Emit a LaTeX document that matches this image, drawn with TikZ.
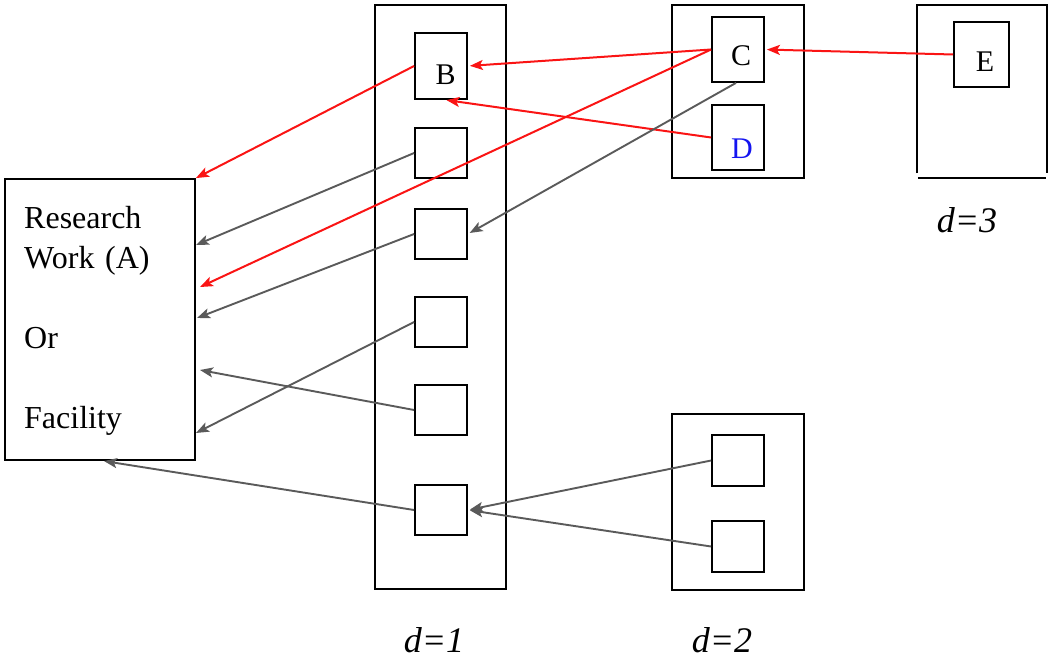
\documentclass[tikz,border=0pt]{standalone}
\usepackage{fontspec}
\setmainfont{Liberation Serif}
\usetikzlibrary{arrows.meta,calc}
\definecolor{arrred}{RGB}{250,20,20}
\definecolor{arrgray}{RGB}{90,90,90}
\definecolor{dblue}{RGB}{20,20,240}
\begin{document}
\begin{tikzpicture}[x=1pt,y=-1pt,
  box/.style={draw=black, line width=1.8pt, inner sep=0pt},
  cell/.style={box, minimum width=52pt, minimum height=50pt},
  letter/.style={font=\fontsize{30}{30}\selectfont, inner sep=0pt},
  dlabel/.style={font=\fontsize{36}{36}\selectfont\itshape, inner sep=0pt},
  tip/.style={-{Stealth[length=13pt,width=10pt,inset=3pt]}},
  redarr/.style={draw=arrred, line width=2pt, tip},
  grayarr/.style={draw=arrgray, line width=1.9pt, tip}]
\useasboundingbox (0,0) rectangle (1052,658);

% A
\node[box, minimum width=190pt, minimum height=281pt] (A) at (100,319.5) {};
\node[anchor=base west, align=left, text width=170pt, inner sep=0pt,
      font=\fontsize{32}{40}\selectfont] (At) at (24,228)
      {Research\\Work (A)\\[40pt]Or\\[40pt]Facility};

% d=1 column
\node[box, minimum width=131pt, minimum height=584pt] (L1) at (440.5,297) {};
\node[cell, minimum height=66pt] (B) at (441,66) {};
\node[cell] (b2) at (441,153) {};
\node[cell] (b3) at (441,234) {};
\node[cell] (b4) at (441,322) {};
\node[cell] (b5) at (441,410) {};
\node[cell] (b6) at (441,510) {};

% d=2 columns
\node[box, minimum width=132pt, minimum height=173pt] (L2a) at (738,91.5) {};
\node[cell, minimum height=65pt] (C) at (738,49.5) {};
\node[cell, minimum height=65pt] (D) at (738,137.5) {};
\node[box, minimum width=132pt, minimum height=176pt] (L2b) at (738,502) {};
\node[cell, minimum height=51pt] (c1) at (738,460.5) {};
\node[cell, minimum height=51pt] (c2) at (738,546.5) {};

% d=3 column
\node[minimum width=130pt, minimum height=168pt, inner sep=0pt] (L3) at (982,89) {};
\draw[line width=1.8pt] (L3.south west) -- (L3.north west) -- (L3.north east) -- (L3.south east);
\draw[line width=1.8pt] ($(L3.south west)+(1,5)$) -- ($(L3.south east)+(-1,5)$);
\node[cell, minimum width=55pt, minimum height=65pt] (E) at (981.5,54.5) {};

% letters
\node[letter] (Bt) at ($(B.center)+(4.5,9)$) {B};
\node[letter] (Ct) at ($(C.center)+(3,6.5)$) {C};
\node[letter, text=dblue] (Dt) at ($(D.center)+(4,11.5)$) {D};
\node[letter] (Et) at ($(E.center)+(3.5,7.5)$) {E};

% level labels
\node[dlabel] (d1) at (434,640) {d=1};
\node[dlabel] (d2) at (722,640) {d=2};
\node[dlabel] (d3) at (967,220) {d=3};

% arrow end points on A
\coordinate (a2) at (200,287);
\coordinate (a3) at (196,245);
\coordinate (a4) at (197,318);
\coordinate (a5) at (200,370);
\coordinate (a6) at (196,433);

% red arrows
\draw[redarr] (B.west) -- (A.north east);
\draw[redarr, shorten >=2pt] (C.west) -- (B.east);
\draw[redarr] (C.west) -- (a2);
\draw[redarr, shorten >=1.5pt] (D.west) -- ([xshift=4pt]B.south);
\draw[redarr, shorten >=2pt] (E.west) -- (C.east);

% gray arrows
\draw[grayarr] (b2.west) -- (a3);
\draw[grayarr, shorten >=2pt] ([xshift=-2pt]C.south) -- (b3.east);
\draw[grayarr] (b3.west) -- (a4);
\draw[grayarr] (b5.west) -- (a5);
\draw[grayarr] (b4.west) -- (a6);
\draw[grayarr, shorten >=1pt] (b6.west) -- ([xshift=3pt]A.south);
\draw[grayarr, shorten >=2pt] (c1.west) -- (b6.east);
\draw[grayarr, shorten >=2pt] (c2.west) -- (b6.east);
\end{tikzpicture}
\end{document}
